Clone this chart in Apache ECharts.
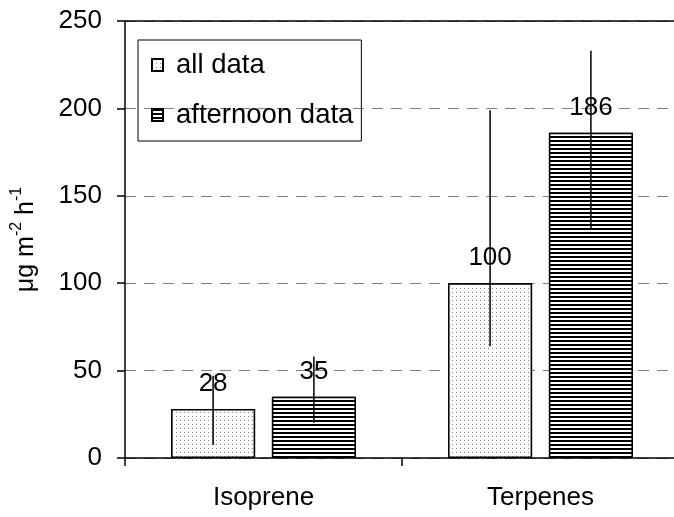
<!DOCTYPE html>
<html>
<head>
<meta charset="utf-8">
<script src="https://cdn.jsdelivr.net/npm/echarts@6/dist/echarts.min.js"></script>
<style>
html,body{margin:0;padding:0;background:#fff;}
#c{width:674px;height:517px;}
</style>
</head>
<body>
<div id="c"></div>
<script>
// ---- data ----
const categories = ['Isoprene', 'Terpenes'];
const seriesNames = ['all data', 'afternoon data'];
const allData = [28, 100];
const afternoonData = [35, 186];
const allLow = [7.5, 64];
const allHigh = [47, 199];
const afternoonLow = [20, 131];
const afternoonHigh = [58, 233];
const yTicks = [0, 50, 100, 150, 200, 250];

// ---- styling constants ----
const FONT = '"Liberation Sans", Arial, sans-serif';
const BAR_W = 84;
const BAR_GAP = 0.2;

const chart = echarts.init(document.getElementById('c'), null, {renderer: 'canvas'});

function errorSeries(name, idx, low, high) {
  const data = categories.map((c, i) => [i, low[i], high[i]]);
  return {
    type: 'custom',
    name: name + ' err',
    z: 5,
    silent: true,
    data: data,
    encode: {x: 0, y: [1, 2]},
    renderItem: function (params, api) {
      const ci = api.value(0);
      const lo = api.coord([ci, api.value(1)]);
      const hi = api.coord([ci, api.value(2)]);
      const off = (BAR_W + BAR_W * BAR_GAP) / 2 * (idx === 0 ? -1 : 1);
      return {
        type: 'line',
        shape: {x1: lo[0] + off, y1: lo[1], x2: hi[0] + off, y2: hi[1]},
        style: {stroke: '#000', lineWidth: 1.5}
      };
    }
  };
}

const dotDecal = {
  symbol: 'rect', symbolSize: 1, color: '#888', backgroundColor: '#fff',
  dashArrayX: [1, 3], dashArrayY: [1, 3], rotation: 0
};
const stripeDecal = {
  symbol: 'rect', symbolSize: 1, color: '#000', backgroundColor: '#fff',
  dashArrayX: [1, 0], dashArrayY: [2, 1.3], rotation: 0
};

const labelStyle = {
  show: true, position: 'top', distance: 12,
  fontFamily: FONT, fontSize: 26, color: '#000'
};

chart.setOption({
  animation: false,
  backgroundColor: '#fff',
  textStyle: {fontFamily: FONT},
  grid: {left: 125, top: 21, right: -5, bottom: 59, containLabel: false, outerBoundsMode: 'none'},
  legend: {
    orient: 'vertical',
    left: 138, top: 40,
    padding: [11, 8, 12, 13],
    itemGap: 22,
    itemWidth: 11, itemHeight: 12,
    icon: 'rect',
    borderColor: '#000', borderWidth: 1,
    data: seriesNames,
    textStyle: {fontFamily: FONT, fontSize: 27.5, color: '#000', padding: [0, 0, 0, 8]}
  },
  xAxis: [{
    type: 'category',
    data: categories,
    axisLine: {lineStyle: {color: '#000', width: 1.5}},
    axisTick: {show: true, length: 8, lineStyle: {color: '#000', width: 1.5}},
    axisLabel: {fontFamily: FONT, fontSize: 26, color: '#000', margin: 27},
    splitLine: {show: false}
  }, {
    type: 'category',
    position: 'top',
    data: categories,
    axisLine: {show: true, lineStyle: {color: '#000', width: 1.5}},
    axisTick: {show: false},
    axisLabel: {show: false}
  }],
  yAxis: {
    type: 'value',
    min: yTicks[0], max: yTicks[yTicks.length - 1], interval: 50,
    axisLine: {show: true, lineStyle: {color: '#000', width: 1.5}},
    axisTick: {show: true, length: 8, lineStyle: {color: '#000', width: 1.5}},
    axisLabel: {fontFamily: FONT, fontSize: 26, color: '#000', margin: 23},
    splitLine: {show: true, lineStyle: {color: '#808080', width: 1, type: [11, 8]}},
    name: '{n|μg m}{s|-2}{n| h}{s|-1}',
    nameLocation: 'middle',
    nameGap: 86,
    nameRotate: 90,
    nameTextStyle: {
      rich: {
        n: {fontFamily: FONT, fontSize: 25, color: '#000', lineHeight: 30, verticalAlign: 'bottom'},
        s: {fontFamily: FONT, fontSize: 16, color: '#000', lineHeight: 30, verticalAlign: 'top'}
      }
    }
  },
  series: [
    {
      type: 'bar', name: seriesNames[0], data: allData,
      barWidth: BAR_W, barGap: (BAR_GAP * 100) + '%',
      itemStyle: {color: '#fff', borderColor: '#000', borderWidth: 1.5, decal: dotDecal},
      label: labelStyle
    },
    {
      type: 'bar', name: seriesNames[1], data: afternoonData,
      barWidth: BAR_W, barGap: (BAR_GAP * 100) + '%',
      itemStyle: {color: '#fff', borderColor: '#000', borderWidth: 1.5, decal: stripeDecal},
      label: labelStyle
    },
    errorSeries(seriesNames[0], 0, allLow, allHigh),
    errorSeries(seriesNames[1], 1, afternoonLow, afternoonHigh)
  ]
});
</script>
</body>
</html>
